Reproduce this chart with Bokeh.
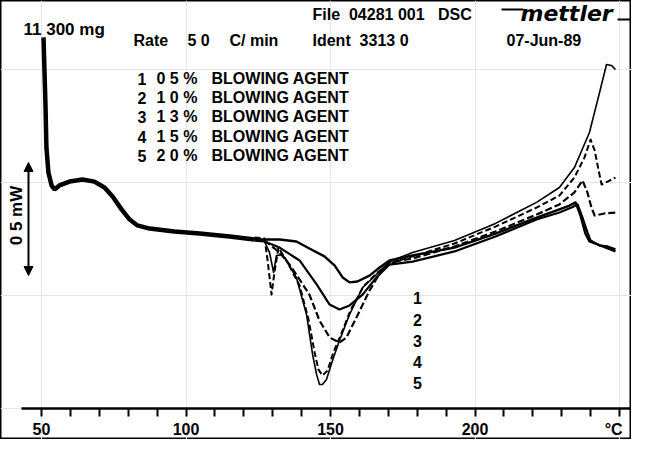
from math import pi
from bokeh.plotting import figure
from bokeh.models import (LinearAxis, FixedTicker, Label, Arrow, NormalHead, Range1d)
from bokeh.embed import file_html
from bokeh.resources import INLINE
from bokeh.core.properties import value

# ---------------- data (temperature in degC, heat flow in mW, arbitrary zero) -------------
base_T = [50.7, 51.0, 51.4, 51.7, 52.4, 53.5, 54.5, 56.2, 59.7, 64.2, 68.3, 71.8, 74.6,
          77.7, 80.5, 83.2, 87.4, 96.0, 104.7, 115.1, 123.7]
base_hf = [1.642, 1.509, 1.332, 1.155, 1.044, 0.987, 0.969, 0.987, 1.004, 1.013, 1.004,
           0.978, 0.938, 0.881, 0.836, 0.810, 0.796, 0.783, 0.774, 0.761, 0.748]

c1_T = [123.7, 127.2, 132.4, 138.2, 142.7, 147.9, 151.4, 154.2, 156.6, 159.3, 163.5, 167.0,
        170.4, 178.4, 192.9, 207.1, 221.3, 229.2, 232.7, 234.8, 236.5, 238.2, 239.6, 242.4, 248.6]
c1_hf = [0.748, 0.748, 0.748, 0.739, 0.708, 0.673, 0.633, 0.580, 0.558, 0.562, 0.588, 0.624,
         0.655, 0.677, 0.712, 0.774, 0.845, 0.881, 0.898, 0.912, 0.854, 0.774, 0.739, 0.726, 0.695]

c2_T = [123.7, 127.2, 132.4, 139.3, 145.2, 149.7, 153.1, 156.6, 161.1, 165.9, 170.4, 178.4,
        192.9, 207.1, 221.3, 229.2, 233.4, 235.5, 237.2, 238.9, 240.0, 243.1, 245.9, 248.6]
c2_hf = [0.743, 0.739, 0.712, 0.655, 0.549, 0.460, 0.438, 0.456, 0.504, 0.580, 0.637, 0.650,
         0.695, 0.761, 0.836, 0.867, 0.889, 0.903, 0.845, 0.779, 0.743, 0.721, 0.717, 0.704]

c3_T = [123.7, 127.2, 132.4, 135.8, 139.3, 142.7, 146.2, 149.7, 153.1, 155.5, 159.0, 163.5,
        167.0, 170.4, 178.4, 192.9, 207.1, 221.3, 229.2, 234.4, 237.2, 238.9, 240.3, 241.4,
        244.8, 249.0]
c3_hf = [0.752, 0.743, 0.690, 0.637, 0.571, 0.504, 0.389, 0.314, 0.292, 0.314, 0.403, 0.522,
         0.597, 0.646, 0.664, 0.717, 0.783, 0.858, 0.903, 0.956, 1.009, 0.956, 0.889, 0.854,
         0.863, 0.867]

c4_T = [123.7, 127.2, 128.2, 129.6, 130.6, 132.0, 134.8, 139.3, 142.4, 144.5, 145.8, 147.2,
        149.0, 151.0, 153.5, 156.9, 161.4, 166.3, 170.4, 178.4, 192.9, 207.1, 221.3, 229.2,
        234.4, 237.9, 240.0, 241.4, 242.7, 243.8, 245.9, 248.6]
c4_hf = [0.757, 0.752, 0.659, 0.504, 0.602, 0.712, 0.655, 0.544, 0.394, 0.248, 0.173, 0.146,
         0.168, 0.248, 0.323, 0.434, 0.540, 0.602, 0.642, 0.673, 0.730, 0.805, 0.889, 0.942,
         1.022, 1.111, 1.190, 1.142, 1.058, 0.991, 1.004, 1.022]

c5_T = [123.7, 127.2, 128.9, 130.3, 131.3, 133.4, 138.2, 141.7, 143.8, 145.2, 146.2, 147.2,
        148.6, 150.7, 153.1, 156.6, 161.1, 165.9, 170.4, 178.4, 192.9, 207.1, 221.3, 229.2,
        234.4, 239.6, 243.1, 245.5, 247.2, 248.6]
c5_hf = [0.748, 0.739, 0.690, 0.602, 0.677, 0.681, 0.580, 0.416, 0.239, 0.150, 0.106, 0.106,
         0.128, 0.212, 0.301, 0.416, 0.535, 0.593, 0.650, 0.690, 0.743, 0.819, 0.912, 0.978,
         1.066, 1.221, 1.398, 1.522, 1.518, 1.500]

curve_ids = ["1", "2", "3", "4", "5"]
curve_pct = ["0 5 %", "1 0 %", "1 3 %", "1 5 %", "2 0 %"]
curve_agent = ["BLOWING AGENT"] * 5
tick_values = list(range(50, 251, 10))
tick_labels = {50: "50", 100: "100", 150: "150", 200: "200", 250: "\u00b0C\u00a0\u00a0"}
scale_bar_mW = 0.5
header_sample = "11 300 mg"
header_rate = ["Rate", "5 0", "C/ min"]
header_file = "File\u00a0 04281 001 \u00a0 DSC"
header_ident = "Ident\u00a0 3313 0"
header_date = "07-Jun-89"
logo_text = "mettler"

# ---------------- layout helpers (reference pixel -> data) ----------------
W, H = 631, 439
PX_PER_C = 2.89
PX_PER_MW = 226.0
SHIFT_X, SHIFT_Y = 1, 3   # reference pixel that sits at the figure's top-left corner


def X(px):
    return 50 + (px - 42) / PX_PER_C


def Y(py):
    return (411 - py) / PX_PER_MW


FONT = value("Liberation Sans")

p = figure(width=W, height=H,
           x_range=Range1d(X(SHIFT_X), X(SHIFT_X + W)),
           y_range=Range1d(Y(SHIFT_Y + H), Y(SHIFT_Y)),
           output_backend="svg", toolbar_location=None, x_axis_location=None,
           y_axis_location=None, min_border=0)
p.outline_line_color = "black"
p.outline_line_width = 2
p.background_fill_color = "white"
p.border_fill_color = "white"

xa = LinearAxis(fixed_location=0, bounds=(X(22), X(637)),
                ticker=FixedTicker(ticks=tick_values),
                major_label_overrides={t: tick_labels.get(t, "") for t in tick_values},
                major_tick_in=0, major_tick_out=8, minor_tick_out=0, minor_tick_in=0,
                axis_line_width=2.5, axis_line_color="black",
                major_tick_line_width=2, major_tick_line_color="black",
                major_label_text_font="Liberation Sans", major_label_text_font_style="bold",
                major_label_text_font_size="16px", major_label_text_color="black",
                major_label_standoff=4)
p.add_layout(xa, "below")

# curves
p.line(base_T, base_hf, line_width=4.5, color="black")
styles = [
    (c1_T, c1_hf, "solid", 2.4),
    (c2_T, c2_hf, "solid", 2.2),
    (c3_T, c3_hf, "7 3", 2.2),
    (c4_T, c4_hf, "6 3", 2.0),
    (c5_T, c5_hf, "solid", 1.6),
]
for T, hf, dash, w in styles:
    p.line(T, hf, line_width=w, line_dash=dash, color="black", line_join="round")

# labels near the minima
lab_y = [300, 322, 343, 364, 385]
p.text(x=[X(418)] * 5, y=[Y(v) for v in lab_y], text=curve_ids, text_font=FONT,
       text_font_style="bold", text_font_size="16px", text_align="center",
       text_baseline="middle", color="black")

# legend list
leg_y = [81, 100, 119, 139, 158]
for txt, px in [(curve_ids, 138), (curve_pct, 157), (curve_agent, 212)]:
    p.text(x=[X(px)] * 5, y=[Y(v) for v in leg_y], text=txt, text_font=FONT,
           text_font_style="bold", text_font_size="16px", text_baseline="middle",
           color="black")


def lab(txt, px, py, size="16px", style="bold", align="left", angle=0,
        font="Liberation Sans"):
    p.add_layout(Label(x=X(px), y=Y(py), text=txt, text_font=font,
                       text_font_style=style, text_font_size=size, text_align=align,
                       text_baseline="middle", angle=angle, text_color="black"))


lab(header_sample, 24, 32, "17px")
for txt, px in zip(header_rate, [134, 188, 230]):
    lab(txt, px, 43)
lab(header_file, 313, 17)
lab(header_ident, 313, 43)
lab(header_date, 507, 43)
lab(logo_text, 521, 16, "22px", "bold italic", font="DejaVu Sans")
p.line([X(502), X(524)], [Y(12), Y(12)], line_width=2, color="black")
p.line([X(618), X(633)], [Y(22), Y(22)], line_width=2, color="black")

# 0.5 mW scale bar
y0 = Y(278)
p.add_layout(Arrow(start=NormalHead(size=9, fill_color="black", line_color="black"),
                   end=NormalHead(size=9, fill_color="black", line_color="black"),
                   x_start=X(29), y_start=y0, x_end=X(29), y_end=y0 + scale_bar_mW,
                   line_width=2, line_color="black"))
lab("0 5 mW", 17, 218, "17px", "bold", "center", pi / 2)

open("out.html", "w").write(file_html(p, INLINE))
